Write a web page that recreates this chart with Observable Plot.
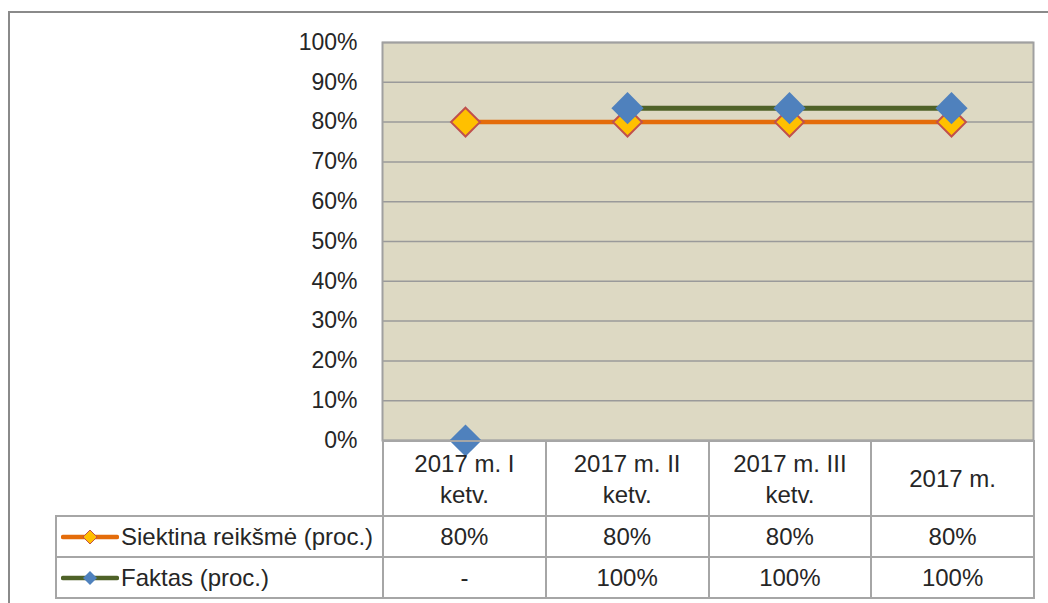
<!DOCTYPE html>
<html><head><meta charset="utf-8">
<script src="https://cdn.jsdelivr.net/npm/d3@7"></script>
<script src="https://cdn.jsdelivr.net/npm/@observablehq/plot@0.6"></script>
<style>
body{margin:0;width:1048px;height:603px;overflow:hidden;background:#fff;font-family:"Liberation Sans",Arial,sans-serif;color:#262626}
#wrap{position:relative;width:1048px;height:603px;overflow:hidden}
#frame{position:absolute;left:8px;top:11px;width:1200px;height:800px;border:2px solid #8a8a8a;box-sizing:border-box}
#chart{position:absolute;left:0;top:0}
#tbl{position:absolute;left:55px;top:440px;border-collapse:collapse;table-layout:fixed;font-size:24px;color:#262626}
#tbl td{border:2px solid #a6a6a6;text-align:center;padding:0;line-height:31px;white-space:nowrap}
#tbl tr.h td{height:73px}
#tbl tr.r td{height:39px}
#tbl td.blank{border-top:none;border-left:none}
#tbl td.leg{text-align:left;padding-left:4px}
#tbl td.leg svg{vertical-align:middle;margin-right:2px;position:relative;top:-2px}
</style>
</head><body>
<div id="wrap"><div id="frame"></div><div id="chart"></div></div>
<script>
const categories = ["2017 m. I ketv.", "2017 m. II ketv.", "2017 m. III ketv.", "2017 m."];
const headerLines = [["2017 m. I", "ketv."], ["2017 m. II", "ketv."], ["2017 m. III", "ketv."], ["2017 m."]];
const seriesNames = ["Siektina reikšmė (proc.)", "Faktas (proc.)"];
const targetValues = [0.8, 0.8, 0.8, 0.8];
const actualValues = [0, 0.835, 0.835, 0.835];
const targetLabels = ["80%", "80%", "80%", "80%"];
const actualLabels = ["-", "100%", "100%", "100%"];
const yTicks = [0, 0.1, 0.2, 0.3, 0.4, 0.5, 0.6, 0.7, 0.8, 0.9, 1.0];

const colors = {target: "#E46C0A", targetFill: "#FFC000", targetStroke: "#C0504D", actual: "#4F6228", actualFill: "#4F81BD"};

const target = categories.map((c, i) => ({cat: c, v: targetValues[i], label: targetLabels[i]}));
const actual = categories.map((c, i) => ({cat: c, v: actualValues[i], label: actualLabels[i]}));

const chart = Plot.plot({
  width: 1048, height: 603,
  marginLeft: 382, marginRight: 15, marginTop: 42, marginBottom: 163,
  style: {fontFamily: '"Liberation Sans", Arial, sans-serif', fontSize: "23px", color: "#262626", background: "transparent", overflow: "visible"},
  x: {type: "point", domain: categories, padding: 0.5, axis: null},
  y: {domain: [0, 1], axis: null},
  marks: [
    Plot.frame({fill: "#DDD9C3", stroke: "none"}),
    Plot.gridY(yTicks, {stroke: "#9a9a9a", strokeOpacity: 1, strokeWidth: 1.5}),
    Plot.axisY(yTicks, {anchor: "left", tickFormat: d3.format(".0%"), tickSize: 0, tickPadding: 25, fontSize: 23, fill: "#262626", label: null}),
    Plot.frame({stroke: "#a0a0a0", strokeWidth: 2}),
    Plot.line(target, {x: "cat", y: "v", stroke: colors.target, strokeWidth: 4.5}),
    Plot.dot(target, {x: "cat", y: "v", symbol: "diamond2", r: 13, fill: colors.targetFill, stroke: colors.targetStroke, strokeWidth: 2}),
    Plot.line(actual.filter(d => d.label !== "-"), {x: "cat", y: "v", stroke: colors.actual, strokeWidth: 5}),
    Plot.dot(actual, {x: "cat", y: "v", symbol: "diamond2", r: 14.5, fill: colors.actualFill})
  ]
});
document.getElementById("chart").appendChild(chart);

// data table
const colW = (1033 - 382) / 4;
function legendIcon(line, fill, stroke) {
  return `<svg width="58" height="20"><line x1="2" y1="10" x2="56" y2="10" stroke="${line}" stroke-width="4.5" stroke-linecap="round"/>` +
    `<path d="M29,3 L36,10 L29,17 L22,10 Z" fill="${fill}" ${stroke ? `stroke="${stroke}" stroke-width="1"` : ""}/></svg>`;
}
let html = `<colgroup><col style="width:327px">${categories.map(() => `<col style="width:${colW}px">`).join("")}</colgroup>`;
html += `<tr class="h"><td class="blank"></td>${headerLines.map(l => `<td>${l.join("<br>")}</td>`).join("")}</tr>`;
html += `<tr class="r"><td class="leg">${legendIcon(colors.target, colors.targetFill, colors.targetStroke)}${seriesNames[0]}</td>${targetLabels.map(t => `<td>${t}</td>`).join("")}</tr>`;
html += `<tr class="r"><td class="leg">${legendIcon(colors.actual, colors.actualFill, null)}${seriesNames[1]}</td>${actualLabels.map(t => `<td>${t}</td>`).join("")}</tr>`;
const tbl = document.createElement("table");
tbl.id = "tbl";
tbl.innerHTML = html;
document.getElementById("wrap").appendChild(tbl);
</script>
</body></html>
